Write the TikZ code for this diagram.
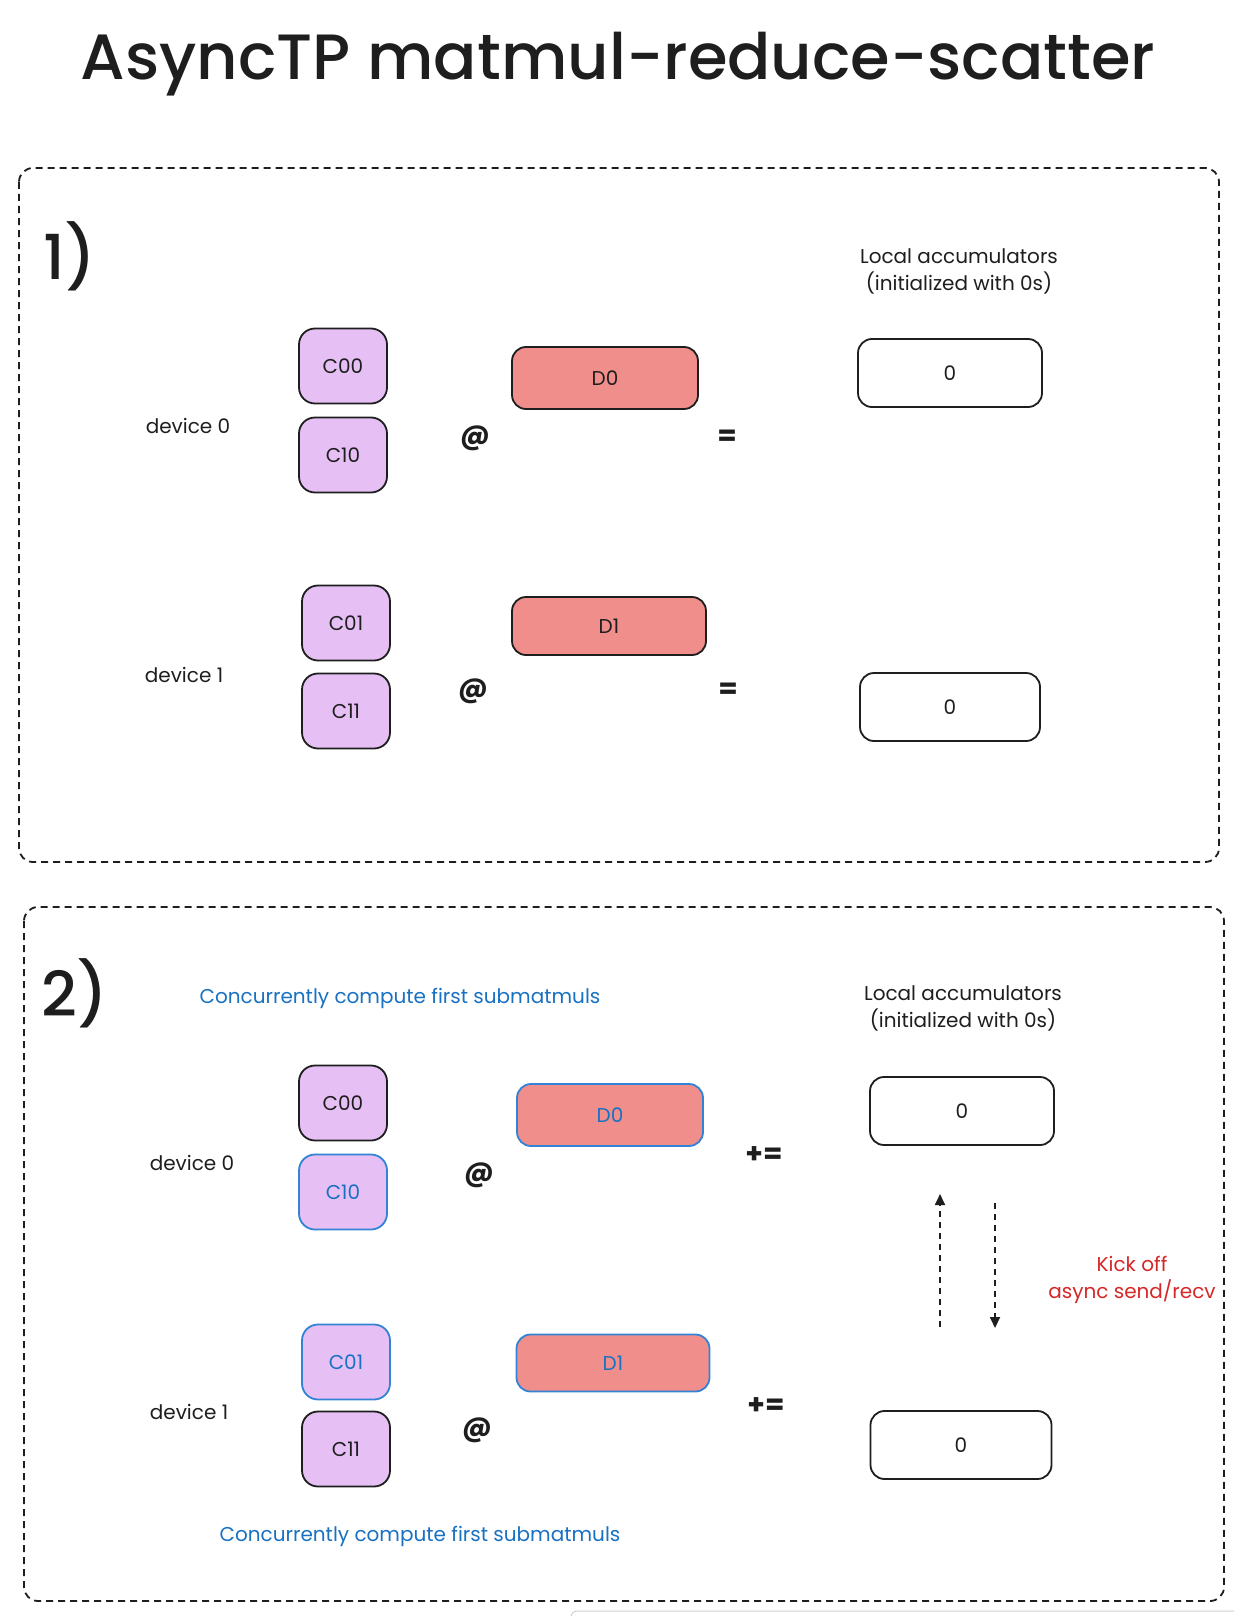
\documentclass[tikz,border=0pt]{standalone}
\usepackage{fontspec}
\setmainfont{Poppins}
\newfontfamily\medfont{Poppins Medium}
\usetikzlibrary{arrows.meta}
\definecolor{cfill}{HTML}{E6C0F5}
\definecolor{dfill}{HTML}{EF8E8A}
\definecolor{xblue}{HTML}{1971C2}
\definecolor{xbluel}{HTML}{3283D6}
\definecolor{xred}{HTML}{D62828}
\definecolor{ink}{HTML}{1E1E1E}
\tikzset{
  frame/.style={draw=ink, line width=1.8pt, dash pattern=on 7pt off 5pt, rounded corners=14pt},
  cbox/.style={draw=ink, fill=cfill, line width=1.8pt, rounded corners=16pt, minimum width=88pt, minimum height=75pt, inner sep=0pt, text=ink, font=\fontsize{20}{24}\selectfont},
  dbox/.style={draw=ink, fill=dfill, line width=1.8pt, rounded corners=14pt, minimum width=186pt, minimum height=62pt, inner sep=0pt, text=ink, font=\fontsize{20}{24}\selectfont},
  abox/.style={draw=ink, fill=white, line width=1.8pt, rounded corners=14pt, minimum width=184pt, minimum height=68pt, inner sep=0pt, text=ink, font=\fontsize{20}{24}\selectfont},
  bluebox/.style={draw=xbluel, text=xblue},
  lbl/.style={text=ink, inner sep=0pt, font=\fontsize{20}{27}\selectfont},
  op/.style={text=ink, inner sep=0pt, font=\fontsize{28}{30}\selectfont\bfseries},
  big/.style={text=ink, inner sep=0pt, font=\medfont\fontsize{62}{66}\selectfont},
  bluetxt/.style={text=xblue, inner sep=0pt, font=\fontsize{20}{24}\selectfont},
  redtxt/.style={text=xred, inner sep=0pt, align=center, font=\fontsize{20}{27}\selectfont},
  xarrow/.style={draw=ink, line width=1.8pt, dash pattern=on 6pt off 5pt, -{Triangle[length=11pt,width=10pt]}},
}
\begin{document}
\begin{tikzpicture}[x=1pt, y=-1pt]
\useasboundingbox (0,0) rectangle (1234,1616);
\fill[white] (0,0) rectangle (1234,1616);

% title
\node[text=ink, inner sep=0pt, font=\medfont\fontsize{64}{70}\selectfont] (title) at (618,64) {AsyncTP matmul-reduce-scatter};

% ---------- section 1 ----------
\draw[frame] (19,168) rectangle (1219,862);
\node[big] (n1) at (70,256) {1)};
\node[lbl, align=center] (acclbla) at (959,271) {Local accumulators\\(initialized with 0s)};

\node[lbl] (dev0a) at (188,426) {device 0};
\node[cbox] (c00a) at (343,366) {C00};
\node[cbox] (c10a) at (343,455) {C10};
\node[op] (at0a) at (475,438) {@};
\node[dbox] (d0a) at (605,378) {D0};
\node[op] (eq0a) at (727,438) {=};
\node[abox] (acc0a) at (950,373) {0};

\node[lbl] (dev1a) at (184,675) {device 1};
\node[cbox] (c01a) at (346,623) {C01};
\node[cbox] (c11a) at (346,711) {C11};
\node[op] (at1a) at (473,691) {@};
\node[dbox, minimum width=194pt, minimum height=58pt] (d1a) at (609,626) {D1};
\node[op] (eq1a) at (728,691) {=};
\node[abox, minimum width=180pt] (acc1a) at (950,707) {0};

% ---------- section 2 ----------
\draw[frame] (24,907) rectangle (1224,1601);
\node[big] (n2) at (75,993) {2)};
\node[bluetxt] (conc1) at (400,998) {Concurrently compute first submatmuls};
\node[lbl, align=center] (acclblb) at (963,1008) {Local accumulators\\(initialized with 0s)};

\node[lbl] (dev0b) at (192,1163) {device 0};
\node[cbox] (c00b) at (343,1103) {C00};
\node[cbox, bluebox] (c10b) at (343,1192) {C10};
\node[op] (at0b) at (479,1175) {@};
\node[dbox, bluebox] (d0b) at (610,1115) {D0};
\node[op] (pe0b) at (764,1155) {+=};
\node[abox] (acc0b) at (962,1111) {0};

\coordinate (upS) at (940,1327);
\coordinate (upE) at (940,1194);
\coordinate (dnS) at (995,1203);
\coordinate (dnE) at (995,1328);
\draw[xarrow] (upS) -- (upE);
\draw[xarrow] (dnS) -- (dnE);
\node[redtxt] (kick) at (1132,1280) {Kick off\\async send/recv};

\node[lbl] (dev1b) at (189,1412) {device 1};
\node[cbox, bluebox] (c01b) at (346,1362) {C01};
\node[cbox] (c11b) at (346,1449) {C11};
\node[op] (at1b) at (477,1430) {@};
\node[dbox, bluebox, minimum width=193pt, minimum height=57pt] (d1b) at (613,1363) {D1};
\node[op] (pe1b) at (766,1406) {+=};
\node[abox, minimum width=181pt] (acc1b) at (961,1445) {0};
\node[bluetxt] (conc2) at (420,1536) {Concurrently compute first submatmuls};

% faint UI edge at bottom
\draw[black!18, line width=1pt, rounded corners=6pt] (571,1616) -- (571,1611) -- (1234,1611);
\end{tikzpicture}
\end{document}
